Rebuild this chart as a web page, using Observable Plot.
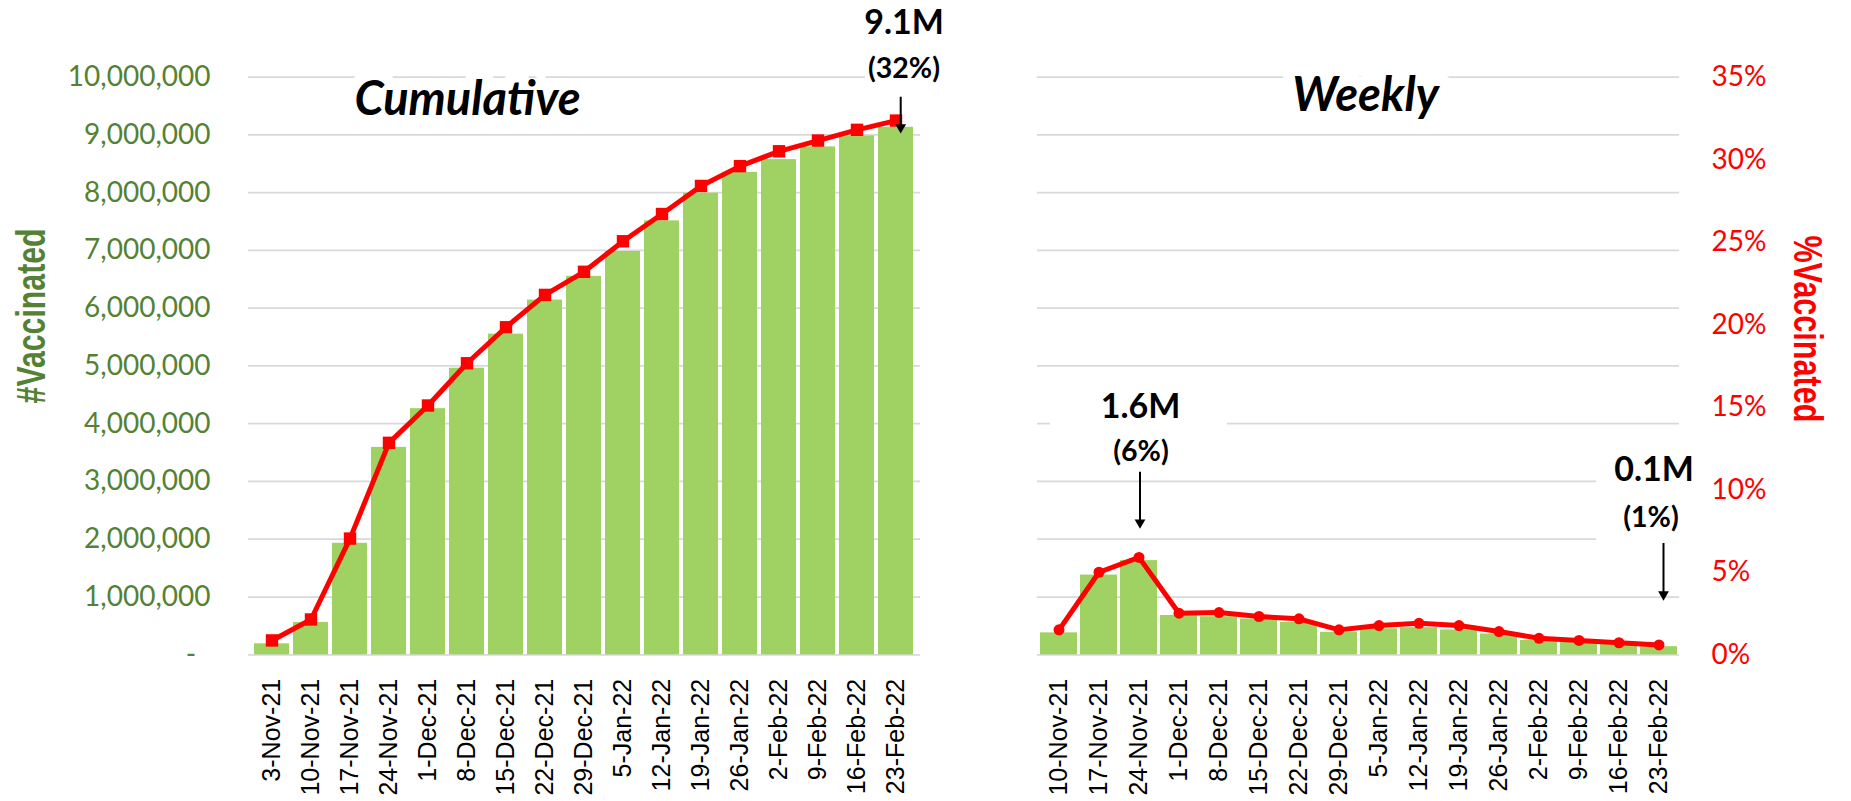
<!DOCTYPE html>
<html>
<head>
<meta charset="utf-8">
<script src="https://cdn.jsdelivr.net/npm/d3@7"></script>
<script src="https://cdn.jsdelivr.net/npm/@observablehq/plot@0.6"></script>
<style>
  body { margin: 0; background: #fff; }
  #chart { position: relative; width: 1851px; height: 801px; overflow: hidden; background: #fff; }
  #chart > svg { position: absolute; top: 0; }
</style>
</head>
<body>
<div id="chart"></div>
<script>
// ---- Cumulative vaccinations (weekly snapshots) ----
const cumDates = ["3-Nov-21","10-Nov-21","17-Nov-21","24-Nov-21","1-Dec-21","8-Dec-21","15-Dec-21",
  "22-Dec-21","29-Dec-21","5-Jan-22","12-Jan-22","19-Jan-22","26-Jan-22","2-Feb-22","9-Feb-22",
  "16-Feb-22","23-Feb-22"];
const cumVaccinated = [190000, 560000, 1930000, 3590000, 4260000, 4960000, 5550000, 6140000, 6550000,
  6980000, 7510000, 7990000, 8350000, 8570000, 8790000, 8980000, 9130000];
const cumPct = [0.87, 2.14, 7.04, 12.84, 15.1, 17.66, 19.84, 21.8, 23.2, 25.05, 26.7, 28.4, 29.6,
  30.5, 31.15, 31.8, 32.36];

// ---- Weekly vaccinations ----
const weekDates = ["10-Nov-21","17-Nov-21","24-Nov-21","1-Dec-21","8-Dec-21","15-Dec-21","22-Dec-21",
  "29-Dec-21","5-Jan-22","12-Jan-22","19-Jan-22","26-Jan-22","2-Feb-22","9-Feb-22","16-Feb-22","23-Feb-22"];
const weekVaccinated = [380000, 1380000, 1630000, 680000, 660000, 620000, 560000, 390000, 450000,
  470000, 430000, 360000, 250000, 230000, 200000, 140000];
const weekPct = [1.51, 5.0, 5.9, 2.52, 2.56, 2.32, 2.18, 1.51, 1.77, 1.91, 1.77, 1.41, 1.0, 0.87, 0.73, 0.6];

// ---- Axis ticks ----
const countTicks = [0, 1000000, 2000000, 3000000, 4000000, 5000000, 6000000, 7000000, 8000000, 9000000, 10000000];
const pctTicks = [0, 5, 10, 15, 20, 25, 30, 35];

// Both y axes share one vertical scale: 0–10M on the left equals 0–35% on the right.
const COUNT_MAX = 10000000, PCT_MAX = 35;
const pctToCount = p => p / PCT_MAX * COUNT_MAX;

const GREEN = "#9fd263", DARK_GREEN = "#548235", RED = "#ff0000", GRID = "#d9d9d9";
const SANS = "Lato, 'Open Sans', sans-serif";
const ARIAL = "'Liberation Sans', Arial, sans-serif";
const NARROW = "'Liberation Sans Narrow', 'Arial Narrow', 'Liberation Sans', sans-serif";

const fmtM = v => (v / 1e6).toFixed(1) + "M";
const fmtPct = p => "(" + Math.round(p) + "%)";

const cum = cumDates.map((date, i) => ({date, count: cumVaccinated[i], pct: cumPct[i]}));
const week = weekDates.map((date, i) => ({date, count: weekVaccinated[i], pct: weekPct[i]}));

const cumLast = cum[cum.length - 1];
const weekPeak = week.reduce((a, b) => (b.count > a.count ? b : a));
const weekLast = week[week.length - 1];

const chart = document.getElementById("chart");

// Shared vertical frame for both panels
const FRAME = {height: 801, marginTop: 76.5, marginBottom: 146.7};

// ---------------- Cumulative panel ----------------
const left = Plot.plot({
  width: 960, ...FRAME, marginLeft: 248, marginRight: 40,
  style: {fontFamily: SANS, background: "transparent", overflow: "visible"},
  x: {domain: cumDates, paddingInner: 0.1, paddingOuter: 0.02, label: null},
  y: {domain: [0, COUNT_MAX], label: null},
  marks: [
    Plot.ruleY(countTicks, {stroke: GRID, strokeWidth: 1.75}),
    // label box for the latest total
    Plot.barY([cumLast], {x: "date", y1: () => 9766000, y2: () => 11320000, fill: "white",
      insetLeft: -13, insetRight: -45}),
    Plot.text(["Cumulative"], {frameAnchor: "top", text: d => d, dx: -117, dy: 37.5, lineAnchor: "bottom",
      fontSize: 47, fontWeight: "bold", fontStyle: "italic", fontFamily: SANS,
      fill: "#000", stroke: "white", strokeWidth: 22}),
    Plot.barY(cum, {x: "date", y: "count", fill: GREEN}),
    Plot.line(cum, {x: "date", y: d => pctToCount(d.pct), stroke: RED, strokeWidth: 5}),
    Plot.dot(cum, {x: "date", y: d => pctToCount(d.pct), symbol: "square", r: 7, fill: RED}),
    Plot.axisY({ticks: countTicks, tickSize: 0, tickPadding: 38, fontSize: 28, color: DARK_GREEN,
      fontFamily: SANS, label: null,
      tickFormat: d => d === 0 ? "-\u00a0\u00a0" : d3.format(",")(d)}),
    Plot.axisX({tickRotate: -90, tickSize: 0, tickPadding: 24, fontSize: 25, fontFamily: ARIAL,
      color: "#000", label: null}),
    Plot.text(["#Vaccinated"], {frameAnchor: "left", text: d => d, rotate: -90, textAnchor: "middle",
      dx: -217, dy: -50, fontSize: 41, fontWeight: "bold", fontFamily: NARROW, fill: DARK_GREEN}),
    // annotation: latest cumulative total
    Plot.text([cumLast], {x: "date", y: () => 10927000, text: d => fmtM(d.count), dx: 8,
      fontSize: 34, fontWeight: "bold", fontFamily: SANS, fill: "#000"}),
    Plot.text([cumLast], {x: "date", y: () => 10139000, text: d => fmtPct(d.pct), dx: 8,
      fontSize: 28.5, fontWeight: "bold", fontFamily: SANS, fill: "#000"}),
    Plot.ruleX([cumLast], {x: "date", y1: () => 9650000, y2: () => 9140000, dx: 4.7,
      stroke: "#000", strokeWidth: 2}),
    Plot.dot([cumLast], {x: "date", y: () => 9129000, dx: 4.7, symbol: "triangle", rotate: 180, r: 4,
      fill: "#000"})
  ]
});
left.style.left = "0px";
chart.appendChild(left);

// ---------------- Weekly panel ----------------
const right = Plot.plot({
  width: 891, ...FRAME, marginLeft: 77, marginRight: 172,
  style: {fontFamily: SANS, background: "transparent", overflow: "visible"},
  x: {domain: weekDates, paddingInner: 0.08, paddingOuter: 0.0, label: null},
  y: {domain: [0, COUNT_MAX], label: null},
  marks: [
    Plot.ruleY(countTicks, {stroke: GRID, strokeWidth: 1.75}),
    // label boxes for the peak week and the latest week
    Plot.barY([weekPeak], {x: "date", y1: () => 3190000, y2: () => 4664000, fill: "white",
      insetLeft: -70, insetRight: -70}),
    Plot.barY([weekLast], {x: "date", y1: () => 1840000, y2: () => 3622000, fill: "white",
      insetLeft: -44, insetRight: -20}),
    Plot.text(["Weekly"], {frameAnchor: "top", text: d => d, dx: 7, dy: 33.5, lineAnchor: "bottom",
      fontSize: 47, fontWeight: "bold", fontStyle: "italic", fontFamily: SANS,
      fill: "#000", stroke: "white", strokeWidth: 24}),
    Plot.barY(week, {x: "date", y: "count", fill: GREEN}),
    Plot.line(week, {x: "date", y: d => pctToCount(d.pct), stroke: RED, strokeWidth: 5}),
    Plot.dot(week, {x: "date", y: d => pctToCount(d.pct), r: 5.5, fill: RED}),
    Plot.axisY({anchor: "right", ticks: pctTicks.map(pctToCount), tickSize: 0, tickPadding: 32,
      fontSize: 28, color: RED, fontFamily: SANS, label: null,
      tickFormat: v => Math.round(v / COUNT_MAX * PCT_MAX) + "%"}),
    Plot.axisX({tickRotate: -90, tickSize: 0, tickPadding: 24, fontSize: 25, fontFamily: ARIAL,
      color: "#000", label: null}),
    Plot.text(["%Vaccinated"], {frameAnchor: "right", text: d => d, rotate: 90, textAnchor: "middle",
      dx: 128, dy: -37, fontSize: 41, fontWeight: "bold", fontFamily: NARROW, fill: RED}),
    // annotation: peak week
    Plot.text([weekPeak], {x: "date", y: () => 4280000, text: d => fmtM(d.count), dx: 1.5,
      fontSize: 34, fontWeight: "bold", fontFamily: SANS, fill: "#000"}),
    Plot.text([weekPeak], {x: "date", y: () => 3510000, text: d => fmtPct(d.pct), dx: 2,
      fontSize: 28.5, fontWeight: "bold", fontFamily: SANS, fill: "#000"}),
    Plot.ruleX([weekPeak], {x: "date", y1: () => 3160000, y2: () => 2300000, dx: 1,
      stroke: "#000", strokeWidth: 2}),
    Plot.dot([weekPeak], {x: "date", y: () => 2288000, dx: 1, symbol: "triangle", rotate: 180, r: 4,
      fill: "#000"}),
    // annotation: latest week
    Plot.text([weekLast], {x: "date", y: () => 3190000, text: d => fmtM(d.count), dx: -5,
      fontSize: 34, fontWeight: "bold", fontFamily: SANS, fill: "#000"}),
    Plot.text([weekLast], {x: "date", y: () => 2368000, text: d => fmtPct(d.pct), dx: -8,
      fontSize: 28.5, fontWeight: "bold", fontFamily: SANS, fill: "#000"}),
    Plot.ruleX([weekLast], {x: "date", y1: () => 1926000, y2: () => 1060000, dx: 4.5,
      stroke: "#000", strokeWidth: 2}),
    Plot.dot([weekLast], {x: "date", y: () => 1044000, dx: 4.5, symbol: "triangle", rotate: 180, r: 4,
      fill: "#000"})
  ]
});
right.style.left = "960px";
chart.appendChild(right);

// Condensed axis titles
const condense = (svg, label, length) =>
  d3.select(svg).selectAll("text")
    .filter(function () { return this.textContent === label; })
    .attr("textLength", length).attr("lengthAdjust", "spacingAndGlyphs");
condense(left, "#Vaccinated", 175);
condense(right, "%Vaccinated", 187);
</script>
</body>
</html>
